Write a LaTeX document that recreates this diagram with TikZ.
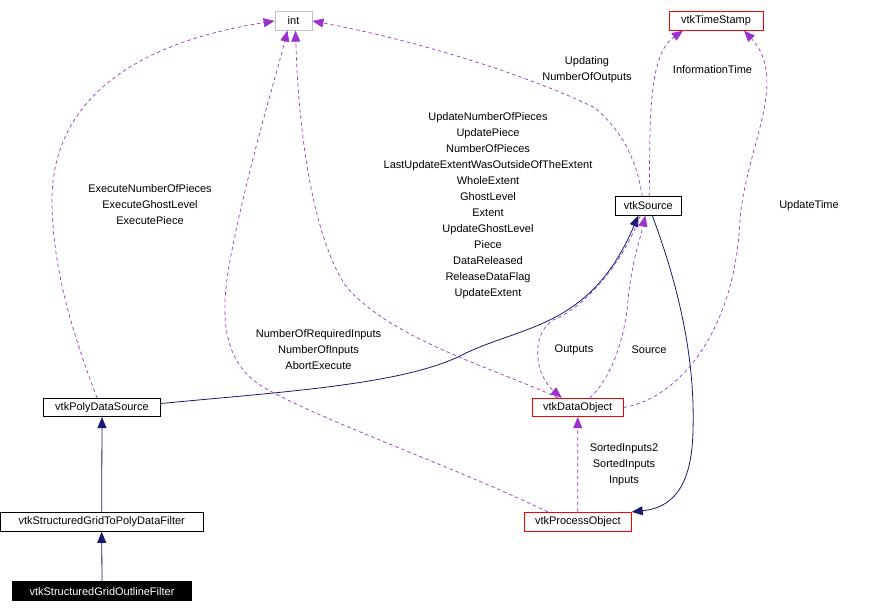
\documentclass[tikz,border=0pt]{standalone}
\usepackage{fontspec}
\setmainfont{Liberation Sans}
\usetikzlibrary{arrows.meta}
\definecolor{edgepurple}{HTML}{9A32CD}
\definecolor{edgenavy}{HTML}{191970}
\definecolor{boxgray}{HTML}{BFBFBF}
\tikzset{
  cls/.style={draw=black, line width=0.8pt, inner sep=0pt, minimum height=18.5pt, font=\fontsize{11}{12}\selectfont, fill=white},
  redcls/.style={cls, draw=red},
  lbl/.style={align=center, inner sep=0pt, font=\fontsize{11}{16}\selectfont},
  usage/.style={draw=edgepurple, line width=0.7pt, dash pattern=on 3.5pt off 3pt, -{Triangle[length=11pt,width=9pt]}, color=edgepurple},
  inherit/.style={draw=edgenavy, line width=0.8pt, -{Triangle[length=11pt,width=9pt]}, color=edgenavy}
}
\begin{document}
\begin{tikzpicture}[x=1pt,y=-1pt]
\useasboundingbox (0,0) rectangle (870,613);
% nodes
\node[cls, draw=boxgray, minimum width=37pt] (int) at (293.5,21) {int};
\node[redcls, minimum width=94pt] (ts) at (716,21) {vtkTimeStamp};
\node[cls, minimum width=66pt] (src) at (648.3,206) {vtkSource};
\node[redcls, minimum width=91pt] (do) at (577.7,407.5) {vtkDataObject};
\node[cls, minimum width=117pt] (pds) at (102,407.5) {vtkPolyDataSource};
\node[cls, minimum width=203pt, minimum height=19.5pt] (sgp) at (101.7,521.7) {vtkStructuredGridToPolyDataFilter};
\node[cls, fill=black, text=white, minimum width=179pt, minimum height=19pt] (sgo) at (102,591.2) {vtkStructuredGridOutlineFilter};
\node[redcls, minimum width=107pt, minimum height=19.5pt] (po) at (577.8,522) {vtkProcessObject};

% labels
\node[lbl] (l1) at (488,205.5) {UpdateNumberOfPieces\\UpdatePiece\\NumberOfPieces\\LastUpdateExtentWasOutsideOfTheExtent\\WholeExtent\\GhostLevel\\Extent\\UpdateGhostLevel\\Piece\\DataReleased\\ReleaseDataFlag\\UpdateExtent};
\node[lbl] (l2) at (587,69.5) {Updating\\NumberOfOutputs};
\node[lbl] (l3) at (712.5,69.5) {InformationTime};
\node[lbl] (l4) at (809,205.5) {UpdateTime};
\node[lbl] (l5) at (574,349.5) {Outputs};
\node[lbl] (l6) at (649,349.5) {Source};
\node[lbl] (l7) at (150,205) {ExecuteNumberOfPieces\\ExecuteGhostLevel\\ExecutePiece};
\node[lbl] (l8) at (318.5,349.5) {NumberOfRequiredInputs\\NumberOfInputs\\AbortExecute};
\node[lbl] (l9) at (624,464.5) {SortedInputs2\\SortedInputs\\Inputs};

% inheritance
\draw[inherit] (sgo.north) -- (sgp.south);
\draw[inherit] (sgp.north) -- (pds.south);
\draw[inherit] ([yshift=4pt]pds.east) .. controls (280,392) and (400,385) .. (460,356)
  .. controls (520,325) and (590,330) .. ([xshift=-10pt]src.south);
\draw[inherit] ([xshift=4pt]src.south) .. controls (680,290) and (695,360) .. (693,430)
  .. controls (692,490) and (670,508) .. (po.north east);

% usage
\draw[usage] ([xshift=-5pt]pds.north) .. controls (75,340) and (52,270) .. (52,200)
  .. controls (52,110) and (120,45) .. (int.west);
\draw[usage] ([xshift=-30pt]po.north) .. controls (450,465) and (320,420) .. (265,388)
  .. controls (215,360) and (222,300) .. (232,250)
  .. controls (250,160) and (275,80) .. ([xshift=-6pt]int.south);
\draw[usage] ([xshift=-20pt]do.north) .. controls (500,370) and (390,340) .. (345,285)
  .. controls (310,230) and (298,120) .. ([xshift=2pt]int.south);
\draw[usage] ([xshift=-6pt]src.north) .. controls (635,150) and (615,125) .. (595,108)
  .. controls (550,85) and (440,45) .. (int.east);
\draw[usage] ([xshift=1pt]src.north) .. controls (650,120) and (648,55) .. ([xshift=-33pt]ts.south);
\draw[usage] (do.east) .. controls (680,398) and (735,330) .. (740,220)
  .. controls (745,150) and (790,80) .. ([xshift=28pt]ts.south);
\draw[usage] (po.north) -- (do.south);
\draw[usage] ([xshift=-8pt]src.south) .. controls (620,270) and (580,310) .. (553,320)
  .. controls (530,335) and (535,375) .. ([xshift=-16pt]do.north);
\draw[usage] ([xshift=12pt]do.north) .. controls (610,380) and (625,340) .. (628,300)
  .. controls (632,260) and (640,240) .. ([xshift=-3pt]src.south);
\end{tikzpicture}
\end{document}
